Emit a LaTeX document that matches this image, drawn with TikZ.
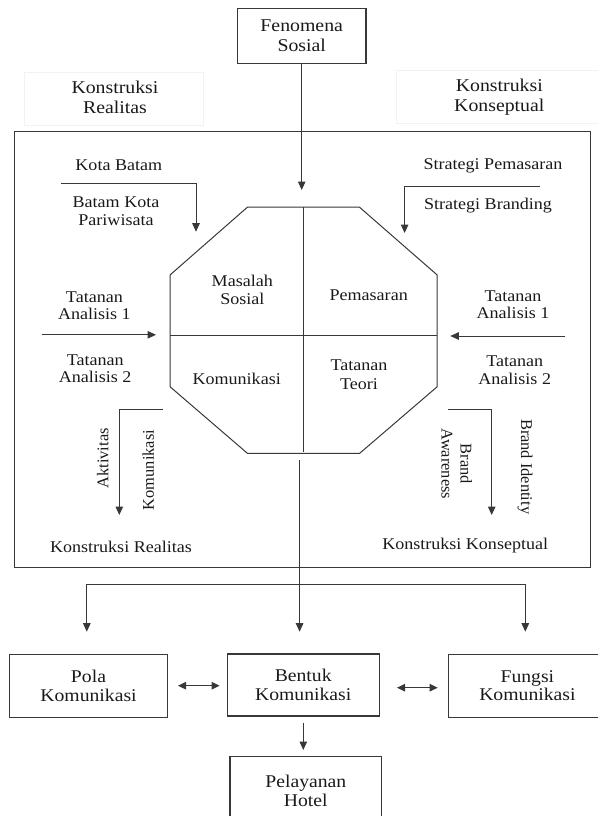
\documentclass[tikz,border=0pt]{standalone}
\usepackage{fontspec}
\setmainfont{Liberation Serif}[FakeStretch=1.1]
\newfontfamily\rotfont{Liberation Serif}
\usepackage{tikz}
\usetikzlibrary{arrows.meta}
\newcommand{\fsz}[2]{\fontsize{#1}{#2}\selectfont}

\tikzset{
  ln/.style={draw=black!78, line width=1pt},
  arr/.style={ln, -{Triangle[length=8.5pt,width=7.5pt]}},
  darr/.style={ln, {Triangle[length=8pt,width=7.5pt]}-{Triangle[length=8pt,width=7.5pt]}},
  box/.style={draw=black!78, line width=1.1pt, align=center, inner sep=0pt, text=black!90},
  lbl/.style={align=center, inner sep=0pt, text=black!90, font=\fsz{16.4}{17.2}},
  quad/.style={lbl, font=\fsz{16.4}{18.6}},
  head/.style={align=center, inner sep=0pt, text=black!90, font=\fsz{18}{20}},
  bot/.style={box, font=\fsz{17.9}{18.3}},
  rot/.style={align=center, inner sep=0pt, text=black!90, font=\rotfont\fsz{16.4}{19}}
}

\begin{document}
\begin{tikzpicture}[x=1pt,y=-1pt]
\useasboundingbox (0,0) rectangle (597,816);

\node[box, head, minimum width=128.5pt, minimum height=55pt] (fenomena) at (301.7,35.8) {Fenomena\\Sosial};
\node[draw=black!5, line width=0.6pt, minimum width=179.3pt, minimum height=52.3pt] (kotakRealitas) at (113.7,98.9) {};
\node[head] (realitasAtas) at (115,97.3) {Konstruksi\\Realitas};
\node[draw=black!5, line width=0.6pt, minimum width=207pt, minimum height=52.6pt] (kotakKonseptual) at (499.5,97) {};
\node[head] (konseptualAtas) at (499.3,97.3) {Konstruksi\\Konseptual};

\draw[ln] (14,131.5) rectangle (590.5,567.3);

\coordinate (puncak) at (302.5,190);
\draw[arr] (fenomena.south) -- (fenomena.south |- puncak);

\coordinate (o1) at (247.4,207.2);
\coordinate (o2) at (359.5,207.2);
\coordinate (o3) at (437.2,275);
\coordinate (o4) at (437.2,386.7);
\coordinate (o5) at (359.7,453.3);
\coordinate (o6) at (247.4,453.3);
\coordinate (o7) at (170,386.7);
\coordinate (o8) at (170,275);
\draw[ln] (o1) -- (o2) -- (o3) -- (o4) -- (o5) -- (o6) -- (o7) -- (o8) -- cycle;
\coordinate (tengahAtas) at (303.3,207.2);
\coordinate (tengahBawah) at (303.3,452);
\coordinate (kiriTengah) at (170,335);
\coordinate (kananTengah) at (437.2,335);
\draw[ln] (tengahAtas) -- (tengahBawah);
\draw[ln] (kiriTengah) -- (kananTengah);

\node[quad] (masalah) at (242.3,290) {Masalah\\Sosial};
\node[quad] (pemasaran) at (368.7,295) {Pemasaran};
\node[quad] (komunikasi) at (236.7,379) {Komunikasi};
\node[quad] (teori) at (359,375) {Tatanan\\Teori};

\node[lbl] (kotaBatam) at (118.8,165.7) {Kota Batam};
\node[lbl] (pariwisata) at (116,211.3) {Batam Kota\\Pariwisata};
\node[lbl] (strategiPemasaran) at (493,165.7) {Strategi Pemasaran};
\node[lbl] (strategiBranding) at (488,205.7) {Strategi Branding};
\coordinate (kiriA) at (61,183.3);
\coordinate (kiriB) at (196,231.7);
\draw[arr] (kiriA) -| (kiriB);
\coordinate (kananA) at (540,186.7);
\coordinate (kananB) at (404.6,233);
\draw[arr] (kananA) -| (kananB);

\node[lbl] (analisisKiri1) at (94.4,305.8) {Tatanan\\Analisis 1};
\node[lbl] (analisisKiri2) at (95.2,368.7) {Tatanan\\Analisis 2};
\node[lbl] (analisisKanan1) at (513,304.7) {Tatanan\\Analisis 1};
\node[lbl] (analisisKanan2) at (514.7,370.3) {Tatanan\\Analisis 2};
\coordinate (tanahKiri) at (41.9,334.8);
\coordinate (ujungKiri) at (156,334.8);
\draw[arr] (tanahKiri) -- (ujungKiri);
\coordinate (tanahKanan) at (565.3,336);
\coordinate (ujungKanan) at (450.3,336);
\draw[arr] (tanahKanan) -- (ujungKanan);

\coordinate (realA) at (162.7,409.3);
\coordinate (realB) at (119.3,515);
\draw[arr] (realA) -| (realB);
\node[rot, rotate=90] (aktivitas) at (102.7,458.3) {Aktivitas};
\node[rot, rotate=90] (komunikasiTegak) at (148.3,470) {Komunikasi};
\node[lbl] (realitasBawah) at (121,546.7) {Konstruksi Realitas};

\coordinate (konsA) at (448.3,409.5);
\coordinate (konsB) at (491.7,515);
\draw[arr] (konsA) -| (konsB);
\node[rot, rotate=-90] (awareness) at (456.7,464) {Brand\\Awareness};
\node[rot, rotate=-90] (identity) at (525,466.7) {Brand Identity};
\node[lbl] (konseptualBawah) at (465.2,545.7) {Konstruksi Konseptual};

\node[bot, minimum width=158pt, minimum height=63pt] (pola) at (88.5,685.8) {Pola\\Komunikasi};
\node[bot, minimum width=151.7pt, minimum height=62pt] (bentuk) at (303.2,685) {Bentuk\\Komunikasi};
\node[bot, minimum width=158pt, minimum height=63pt] (fungsi) at (527.4,685.8) {Fungsi\\Komunikasi};
\node[bot, minimum width=151.7pt, minimum height=68.2pt] (pelayanan) at (305.8,790.8) {Pelayanan\\Hotel};

\coordinate (dasarOkta) at (299.6,460);
\coordinate (cabang) at (299.6,584);
\coordinate (cabangKiri) at (86.8,584);
\coordinate (cabangKanan) at (525.3,584);
\draw[ln] (dasarOkta) -- (cabang);
\draw[ln] (cabangKiri) -- (cabangKanan);
\draw[arr] (cabangKiri) -- (86.8,631.7);
\draw[arr] (cabang) -- (299.6,631.7);
\draw[arr] (cabangKanan) -- (525.3,631.7);

\coordinate (polaKanan) at (178,685.7);
\coordinate (bentukKiri) at (219.6,685.7);
\draw[darr] (polaKanan) -- (bentukKiri);
\coordinate (bentukKanan) at (397,687.7);
\coordinate (fungsiKiri) at (437.7,687.7);
\draw[darr] (bentukKanan) -- (fungsiKiri);
\coordinate (turunA) at (303.3,722.7);
\coordinate (turunB) at (303.3,750);
\draw[arr] (turunA) -- (turunB);
\end{tikzpicture}
\end{document}
